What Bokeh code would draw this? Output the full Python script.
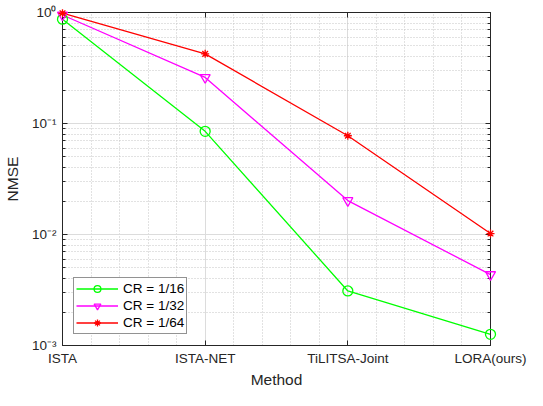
from bokeh.plotting import figure
from bokeh.models import (FixedTicker, Range1d, LinearAxis, LogAxis, CustomJSTickFormatter,
                          Legend, LegendItem)
from bokeh.embed import file_html
from bokeh.resources import INLINE

# ---- data ----
methods = ["ISTA", "ISTA-NET", "TiLITSA-Joint", "LORA(ours)"]
method_pos = [0, 1, 2, 3]
nmse_cr16 = [0.87, 0.085, 0.0031, 0.00126]
nmse_cr32 = [0.95, 0.26, 0.0202, 0.00435]
nmse_cr64 = [0.985, 0.424, 0.0776, 0.0102]
series_labels = ["CR = 1/16", "CR = 1/32", "CR = 1/64"]
y_tick_values = [1e-3, 1e-2, 1e-1, 1.0]
y_tick_labels = ["10\u207b\u00b3", "10\u207b\u00b2", "10\u207b\u00b9", "10\u2070"]

FONT = "Liberation Sans"
AX = "#262626"

p = figure(width=527, height=390, output_backend="svg", toolbar_location=None,
           y_axis_type="log",
           x_range=Range1d(0, 3), y_range=Range1d(1e-3, 1.0),
           min_border_left=62, min_border_right=37, min_border_top=12, min_border_bottom=42)
p.background_fill_color = "white"
p.border_fill_color = "white"
p.outline_line_color = AX
p.outline_line_width = 1

# x ticker with minor every 0.2
x_minor = [i / 5 for i in range(0, 16) if i % 5 != 0]
x_ticker = FixedTicker(ticks=method_pos, minor_ticks=x_minor)
y_minor = [k * 10.0 ** e for e in (-3, -2, -1) for k in range(2, 10)]
y_ticker = FixedTicker(ticks=y_tick_values, minor_ticks=y_minor)

y_fmt = CustomJSTickFormatter(args=dict(vals=y_tick_values, labels=y_tick_labels), code="""
let best = 0, d = Infinity;
for (let i = 0; i < vals.length; i++) {
  const dd = Math.abs(Math.log10(tick) - Math.log10(vals[i]));
  if (dd < d) { d = dd; best = i; }
}
return labels[best];
""")
blank = CustomJSTickFormatter(code="return '';")

xa = p.xaxis[0]
xa.ticker = x_ticker
xa.major_label_overrides = {pos: m for pos, m in zip(method_pos, methods)}
ya = p.yaxis[0]
ya.ticker = y_ticker
ya.formatter = y_fmt

for ax in (xa, ya):
    ax.axis_line_color = AX
    ax.axis_line_width = 1
    ax.major_tick_line_color = AX
    ax.minor_tick_line_color = AX
    ax.major_tick_in = 5
    ax.major_tick_out = 0
    ax.minor_tick_in = 3
    ax.minor_tick_out = 0
    ax.major_label_text_font = FONT
    ax.major_label_text_font_size = "13.5px"
    ax.major_label_text_color = AX
    ax.axis_label_text_font = FONT
    ax.axis_label_text_font_size = "15.5px"
    ax.axis_label_text_font_style = "normal"
    ax.axis_label_text_color = AX
xa.minor_tick_line_color = None
xa.axis_label = "Method"
ya.axis_label = "NMSE"
xa.major_label_standoff = 5
xa.axis_label_standoff = 2
ya.major_label_standoff = 6
ya.axis_label_standoff = 8

# box axes (top, right)
top = LinearAxis(ticker=x_ticker, formatter=blank)
right = LogAxis(ticker=y_ticker, formatter=blank)
for ax in (top, right):
    ax.axis_line_color = AX
    ax.major_tick_line_color = AX
    ax.minor_tick_line_color = AX
    ax.major_tick_in = 5
    ax.major_tick_out = 0
    ax.minor_tick_in = 3
    ax.minor_tick_out = 0
    ax.major_label_standoff = 0
top.minor_tick_line_color = None
p.add_layout(top, "above")
p.add_layout(right, "right")

# grids
for g in (p.xgrid[0], p.ygrid[0]):
    g.grid_line_color = "#dcdcdc"
    g.grid_line_width = 1
    g.minor_grid_line_color = "#c4c4c4"
    g.minor_grid_line_dash = "1 2"
    g.minor_grid_line_width = 1
p.xgrid[0].ticker = x_ticker
p.ygrid[0].ticker = y_ticker

colors = ["#00ff00", "#ff00ff", "#ff0000"]
markers = ["circle", "inverted_triangle", "asterisk"]
sizes = [10, 10, 8]
items = []
for vals, lab, c, m, s in zip([nmse_cr16, nmse_cr32, nmse_cr64], series_labels, colors, markers, sizes):
    ln = p.line(method_pos, vals, line_color=c, line_width=1.3)
    sc = p.scatter(method_pos, vals, marker=m, size=s, line_color=c, fill_color=None,
                   line_width=1.3, level="overlay")
    items.append(LegendItem(label=lab, renderers=[ln, sc]))

legend = Legend(items=items, location="bottom_left")
legend.margin = 11
legend.padding = 2
legend.spacing = 0
legend.glyph_width = 42
legend.glyph_height = 17
legend.label_height = 17
legend.label_standoff = 5
legend.label_text_font = FONT
legend.label_text_font_size = "13.5px"
legend.label_text_color = "#000000"
legend.border_line_color = AX
legend.border_line_width = 1
legend.background_fill_color = "white"
legend.background_fill_alpha = 1
p.add_layout(legend, "center")

open("out.html", "w").write(file_html(p, INLINE))
